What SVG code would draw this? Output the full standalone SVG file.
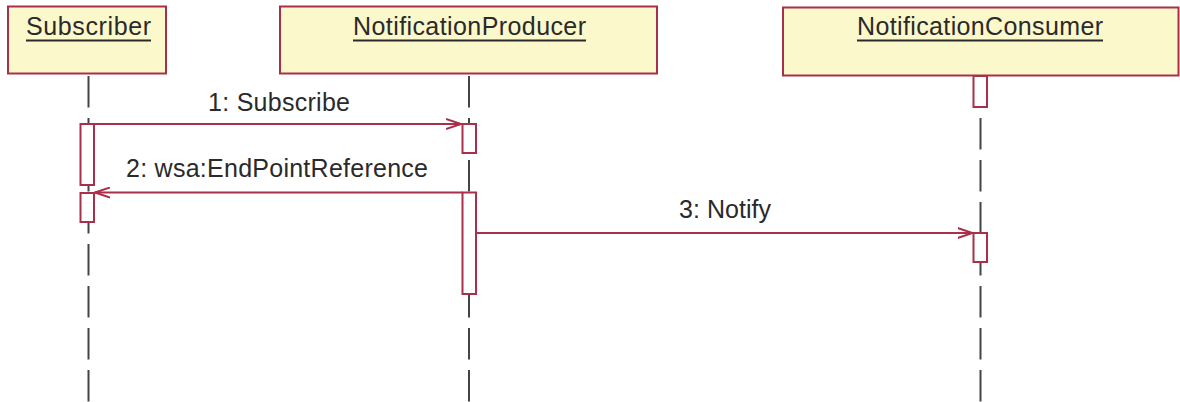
<svg xmlns="http://www.w3.org/2000/svg" width="1180" height="402" viewBox="0 0 1180 402">
<defs>
<style>
.box{fill:#FBF8CC;stroke:#A8304A;stroke-width:2}
.name{font-family:"Liberation Sans",Arial,sans-serif;font-size:25px;fill:#2a2a2a;text-anchor:middle}
.ul{stroke:#2a2a2a;stroke-width:2}
.life{stroke:#444;stroke-width:2;stroke-dasharray:31.5 10.5;fill:none}
.act{fill:#fff;stroke:#A8304A;stroke-width:2}
.msg{stroke:#A8304A;stroke-width:2;fill:none}
.lbl{font-family:"Liberation Sans",Arial,sans-serif;font-size:25px;fill:#2a2a2a;text-anchor:middle}
</style>
<marker id="open" viewBox="0 0 16 12" refX="15" refY="6" markerWidth="16" markerHeight="12" markerUnits="userSpaceOnUse" orient="auto">
<path d="M0,1 L15,6 L0,11" fill="none" stroke="#A8304A" stroke-width="2"/>
</marker>
</defs>
<rect width="1180" height="402" fill="#fff"/>
<g id="lifelines">
<line class="life" x1="88.5" y1="76" x2="88.5" y2="402"/>
<line class="life" x1="469" y1="76" x2="469" y2="402"/>
<line class="life" x1="980.5" y1="76" x2="980.5" y2="402"/>
</g>
<g id="Subscriber">
<rect class="box" x="8" y="6.5" width="158" height="67"/>
<text class="name" x="88.5" y="35" textLength="125" lengthAdjust="spacing">Subscriber</text>
<line class="ul" x1="26" y1="40.5" x2="151" y2="40.5"/>
<rect class="act" x="80.5" y="124" width="13.5" height="61"/>
<rect class="act" x="80.5" y="193" width="13.5" height="29"/>
</g>
<g id="NotificationProducer">
<rect class="box" x="280" y="6.5" width="377" height="67"/>
<text class="name" x="469.5" y="35" textLength="233" lengthAdjust="spacing">NotificationProducer</text>
<line class="ul" x1="353" y1="40.5" x2="586" y2="40.5"/>
<rect class="act" x="462.5" y="124" width="13.5" height="29"/>
<rect class="act" x="462.5" y="192.5" width="13.5" height="101.5"/>
</g>
<g id="NotificationConsumer">
<rect class="box" x="783" y="7.5" width="395.5" height="68"/>
<text class="name" x="980" y="35" textLength="246" lengthAdjust="spacing">NotificationConsumer</text>
<line class="ul" x1="857" y1="40.5" x2="1103" y2="40.5"/>
<rect class="act" x="973.5" y="76" width="13.5" height="31"/>
<rect class="act" x="973.5" y="233" width="13.5" height="29"/>
</g>
<g id="connectors">
<line class="msg" x1="94" y1="124" x2="461" y2="124" marker-end="url(#open)"/>
<line class="msg" x1="462.5" y1="192.5" x2="95" y2="192.5" marker-end="url(#open)"/>
<line class="msg" x1="476" y1="233" x2="972.5" y2="233" marker-end="url(#open)"/>
<text class="lbl" x="279" y="111" textLength="142" lengthAdjust="spacing">1: Subscribe</text>
<text class="lbl" x="277" y="177" textLength="302" lengthAdjust="spacing">2: wsa:EndPointReference</text>
<text class="lbl" x="725" y="218" textLength="92" lengthAdjust="spacing">3: Notify</text>
</g>
</svg>
